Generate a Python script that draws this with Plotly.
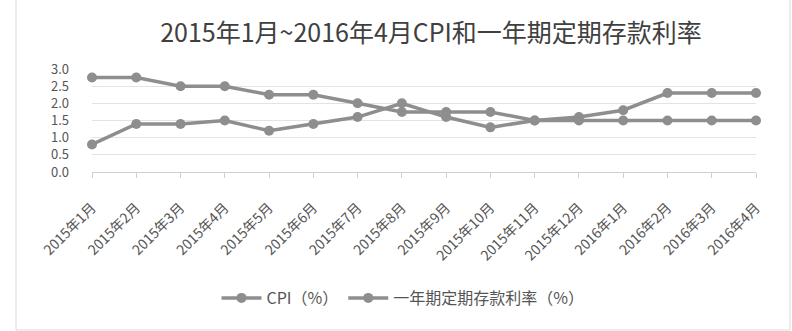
import plotly.graph_objects as go

months = ["2015年1月", "2015年2月", "2015年3月", "2015年4月", "2015年5月", "2015年6月",
          "2015年7月", "2015年8月", "2015年9月", "2015年10月", "2015年11月", "2015年12月",
          "2016年1月", "2016年2月", "2016年3月", "2016年4月"]
cpi = [0.8, 1.4, 1.4, 1.5, 1.2, 1.4, 1.6, 2.0, 1.6, 1.3, 1.5, 1.6, 1.8, 2.3, 2.3, 2.3]
rate = [2.75, 2.75, 2.5, 2.5, 2.25, 2.25, 2.0, 1.75, 1.75, 1.75, 1.5, 1.5, 1.5, 1.5, 1.5, 1.5]
y_ticks = [0.0, 0.5, 1.0, 1.5, 2.0, 2.5, 3.0]

FONT = "Noto Sans CJK SC, sans-serif"
LINE = "#8e8e8e"

fig = go.Figure()
fig.add_trace(go.Scatter(x=months, y=cpi, name="CPI（%）", mode="lines+markers",
                         line=dict(color=LINE, width=3.5),
                         marker=dict(color=LINE, size=10), cliponaxis=False))
fig.add_trace(go.Scatter(x=months, y=rate, name="一年期定期存款利率（%）", mode="lines+markers",
                         line=dict(color=LINE, width=3.5),
                         marker=dict(color=LINE, size=10), cliponaxis=False))

fig.update_layout(
    width=792, height=331,
    margin=dict(l=92, r=36, t=69, b=159),
    paper_bgcolor="white", plot_bgcolor="white",
    font=dict(family=FONT, color="#555555"),
    title=dict(text="2015年1月~2016年4月CPI和一年期定期存款利率",
               x=431 / 792, xanchor="center", y=1 - 33 / 331, yanchor="middle",
               font=dict(size=25, color="#404040", family=FONT)),
    showlegend=True,
    legend=dict(orientation="h", x=(403 - 92) / 664, xanchor="center",
                y=(172 - 298) / 103, yanchor="middle",
                font=dict(size=16, color="#555555"), itemwidth=40,
                bgcolor="rgba(0,0,0,0)"),
    xaxis=dict(type="category", range=[0, 15], showgrid=False,
               showline=True, linecolor="#d0d0d0", linewidth=1,
               ticks="outside", ticklen=5, tickcolor="#d0d0d0",
               tickangle=-45, tickfont=dict(size=14, color="#555555"),
               ticklabelstandoff=16, zeroline=False),
    yaxis=dict(range=[0, 3], tickvals=y_ticks, tickformat=".1f",
               showgrid=True, gridcolor="#e3e3e3", gridwidth=1,
               showline=False, zeroline=False,
               tickfont=dict(size=13, color="#555555"), ticklabelstandoff=22),
    shapes=[dict(type="rect", xref="paper", yref="paper",
                 x0=(16 - 92) / 664, x1=(790 - 92) / 664,
                 y0=(172 - 330) / 103, y1=(172 + 10) / 103,
                 line=dict(color="#d9d9d9", width=1), layer="below")],
)

fig.write_html("out.html")
